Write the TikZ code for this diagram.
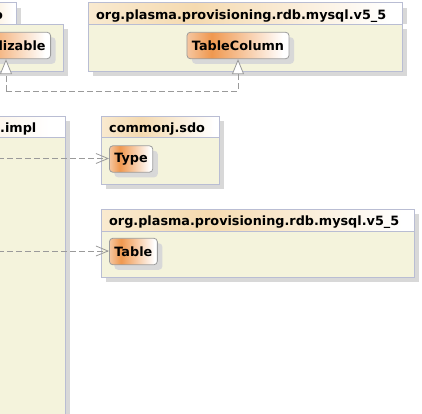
\documentclass[tikz,border=0pt]{standalone}
\usepackage{fontspec}
\setmainfont{DejaVu Sans}
\usetikzlibrary{arrows.meta,shadows}
\definecolor{bodyc}{HTML}{F4F3DC}
\definecolor{pkgline}{HTML}{B9BDD3}
\definecolor{shadowc}{HTML}{D8D8D8}
\definecolor{hdrA}{HTML}{F9EAD0}
\definecolor{hdrB}{HTML}{F5DAB0}
\definecolor{clsA}{HTML}{F5C6A0}
\definecolor{clsB}{HTML}{F0984F}
\definecolor{clsline}{HTML}{9C9C9C}
\definecolor{linkc}{HTML}{9A9A9A}
\pgfdeclarehorizontalshading{hdrshade}{100bp}{color(0bp)=(hdrA); color(25bp)=(hdrA); color(42bp)=(hdrB); color(73bp)=(white); color(100bp)=(white)}
\pgfdeclarehorizontalshading{clsshade}{100bp}{color(0bp)=(clsA); color(25bp)=(clsA); color(37bp)=(clsB); color(72bp)=(white); color(100bp)=(white)}
\newcommand{\umlfont}{\fontsize{12.8}{14}\selectfont\bfseries}
\tikzset{
  pkgbody/.style={draw=pkgline, fill=bodyc, line width=0.8pt},
  pkghdr/.style={draw=pkgline, shading=hdrshade, line width=0.8pt},
  pkgshadow/.style={fill=shadowc, draw=none},
  ttl/.style={font=\umlfont, inner sep=0pt, anchor=base west},
  cls/.style={draw=clsline, line width=0.8pt, rounded corners=3.5pt, shading=clsshade,
    font=\umlfont, inner xsep=5pt, inner ysep=0pt, minimum height=26.5pt, text=black,
    drop shadow={shadow xshift=5pt, shadow yshift=-5pt, fill=shadowc, opacity=1}},
  real/.style={draw=linkc, line width=0.8pt, dash pattern=on 6pt off 3pt,
    -{Triangle[length=15pt, width=12pt, fill=white]}},
  dep/.style={draw=linkc, line width=0.8pt, dash pattern=on 6pt off 3pt,
    -{Straight Barb[length=12pt, width=10pt]}}
}
\begin{document}
\begin{tikzpicture}[x=1pt, y=-1pt]
\useasboundingbox (0,0) rectangle (422,413);
% package java.io (top left)
\fill[pkgshadow] (-40,29) rectangle (68,76);
\fill[pkgshadow] (-40,7.5) rectangle (21,24);
\path[pkghdr] (-60,2.5) rectangle (16,24);
\draw[pkgbody] (-100,24) rectangle (63,71);
\node[font=\umlfont, inner sep=0pt, anchor=base east] (t1) at (3,19) {java.io};
% package rdb.mysql.v5_5 (top right)
\fill[pkgshadow] (93,29) rectangle (407,76);
\fill[pkgshadow] (93,7.7) rectangle (407,24);
\path[pkghdr] (88,2.7) rectangle (402,24);
\draw[pkgbody] (88,24) rectangle (402,71);
\node[ttl] (t2) at (96,19) {org.plasma.provisioning.rdb.mysql.v5\_5};
% package ...v5_5.impl (left)
\fill[pkgshadow] (-300,121) rectangle (70,440);
\path[pkghdr] (-300,116) rectangle (65,137);
\draw[pkgbody] (-300,137) rectangle (65,440);
\node[font=\umlfont, inner sep=0pt, anchor=base east] (t3) at (36.5,132) {org.plasma.provisioning.rdb.mysql.v5\_5.impl};
% package commonj.sdo
\fill[pkgshadow] (106,121) rectangle (224,189);
\path[pkghdr] (101,116) rectangle (219,137);
\draw[pkgbody] (101,137) rectangle (219,184);
\node[ttl] (t4) at (109,132) {commonj.sdo};
% package rdb.mysql.v5_5 (bottom right)
\fill[pkgshadow] (106,214) rectangle (419,282);
\path[pkghdr] (101,209) rectangle (414,231);
\draw[pkgbody] (101,231) rectangle (414,277);
\node[ttl] (t5) at (109,225.5) {org.plasma.provisioning.rdb.mysql.v5\_5};
% classes
\node[cls, anchor=east] (ser) at (51,45.5) {Serializable};
\node[cls] (tc) at (238,45.5) {TableColumn};
\node[cls, anchor=west] (type) at (109,159) {Type};
\node[cls, anchor=west] (tbl) at (109,251.5) {Table};
% connectors
\coordinate (rj) at (6,91);
\draw[real] (rj) -- (ser.south -| rj);
\draw[real] (rj) -| (tc.south);
\coordinate (d1) at (-20,158.5);
\coordinate (d2) at (-20,251);
\draw[dep] (d1) -- (d1 -| type.west);
\draw[dep] (d2) -- (d2 -| tbl.west);
\end{tikzpicture}
\end{document}
